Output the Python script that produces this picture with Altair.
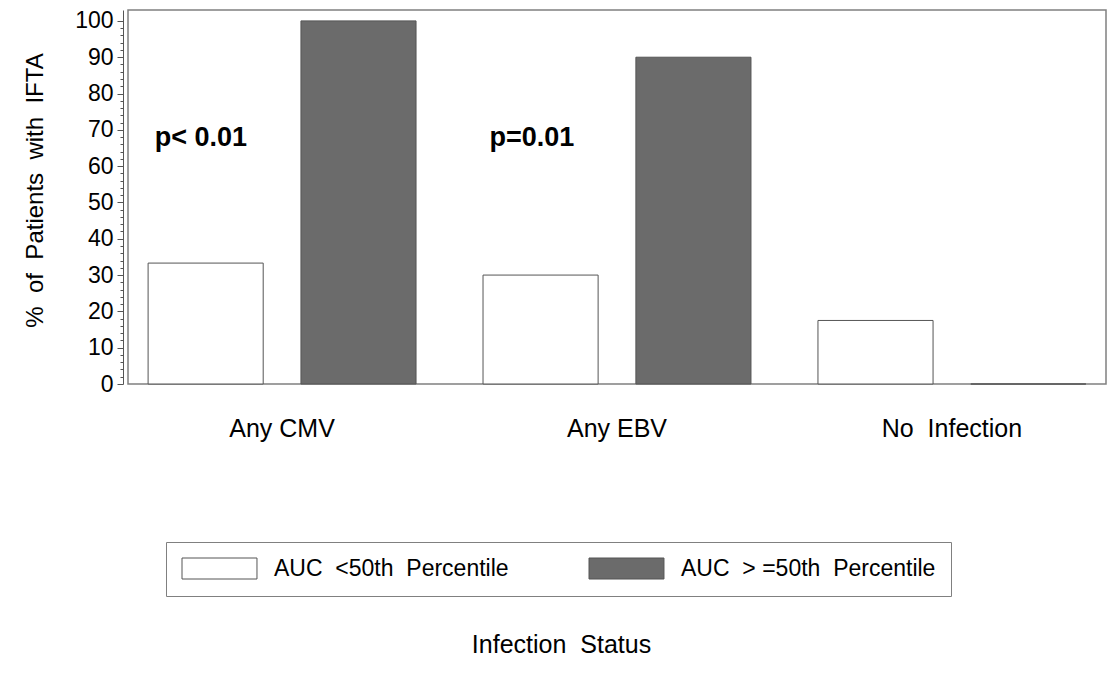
import altair as alt
import pandas as pd

# ---- data ----
NB = "\u00a0"  # non-breaking space keeps the wide gaps of the original lettering
categories = ["Any CMV", "Any EBV", "No" + NB + " Infection"]
groups = ["AUC" + NB + " <50th" + NB + " Percentile", "AUC" + NB + " > =50th" + NB + " Percentile"]
below_50 = [33.3, 30.0, 17.5]
above_50 = [100.0, 90.0, 0.0]

p_categories = ["Any CMV", "Any EBV"]
p_labels = ["p< 0.01", "p=0.01"]
p_y = [65.5, 65.5]

y_ticks = list(range(0, 101, 2))

rows = []
for c, a, b in zip(categories, below_50, above_50):
    rows.append({"cat": c, "grp": groups[0], "pct": a})
    rows.append({"cat": c, "grp": groups[1], "pct": b})
df = pd.DataFrame(rows)

ann = pd.DataFrame({"cat": p_categories, "grp": [groups[0]] * len(p_categories),
                    "pct": p_y, "txt": p_labels})

FONT = "Liberation Sans"

x_enc = alt.X(
    "cat:N", sort=categories,
    scale=alt.Scale(domain=categories, paddingInner=0.2, paddingOuter=0.06),
    axis=alt.Axis(
        title="Infection" + NB + " Status", labelFontSize=25, labelFont=FONT, labelColor="black",
        labelAngle=0, ticks=False, tickSize=0, domain=False, labelPadding=32,
        titleFontSize=25, titleFont=FONT, titleFontWeight="normal", titleColor="black",
        titleX=433, titleY=268, titleBaseline="alphabetic", titleAlign="center",
    ),
)
xoff_enc = alt.XOffset(
    "grp:N", sort=groups,
    scale=alt.Scale(domain=groups, paddingInner=0.247, paddingOuter=0),
)
y_enc = alt.Y(
    "pct:Q",
    scale=alt.Scale(domain=[0, 103], nice=False, zero=True),
    axis=alt.Axis(
        values=y_ticks, tickCount=60,
        labelExpr="datum.value % 10 === 0 ? datum.label : ''",
        tickSize={"condition": {"test": "datum.value % 10 === 0", "value": 6}, "value": 3},
        offset=5, domain=True, domainColor="#555555", tickColor="#555555",
        labelFontSize=23, labelFont=FONT, labelColor="black", labelPadding=4,
        labelOverlap=False, grid=False,
        title="%" + NB + " of" + NB + " Patients" + NB + " with" + NB + " IFTA",
        titleFontSize=24, titleFont=FONT,
        titleFontWeight="normal", titleColor="black",
        titleX=-81, titleY=180, titleBaseline="alphabetic", titleAlign="center",
    ),
)

bars = alt.Chart(df).mark_bar(stroke="#555555", strokeWidth=1).encode(
    x=x_enc,
    xOffset=xoff_enc,
    y=y_enc,
    fill=alt.Fill(
        "grp:N", sort=groups,
        scale=alt.Scale(domain=groups, range=["#ffffff", "#6b6b6b"]),
        legend=alt.Legend(
            title=None, orient="none", legendX=38, legendY=532, direction="horizontal",
            symbolType="M-1,-1H6.14V1H-1Z", symbolSize=441,
            symbolStrokeColor="#555555", symbolStrokeWidth=1,
            labelFontSize=23, labelFont=FONT, labelColor="black", labelLimit=400,
            labelOffset=70, columnPadding=78, padding=15,
            strokeColor="#808080", fillColor="#ffffff",
        ),
    ),
)

text = alt.Chart(ann).mark_text(
    font=FONT, fontSize=27, fontWeight="bold", align="left",
    baseline="alphabetic", dx=-51, color="black",
).encode(
    x=alt.X("cat:N", sort=categories),
    xOffset=alt.XOffset("grp:N", sort=groups),
    y=alt.Y("pct:Q"),
    text="txt:N",
)

chart = alt.layer(bars, text).properties(
    width=978, height=374,
    autosize="none",
    padding={"left": 120, "top": 2, "right": 2, "bottom": 276},
    background="#ffffff",
).configure_view(stroke="#808080", strokeWidth=1.5)

chart.save("out.html", embed_options={"renderer": "svg", "actions": False})
